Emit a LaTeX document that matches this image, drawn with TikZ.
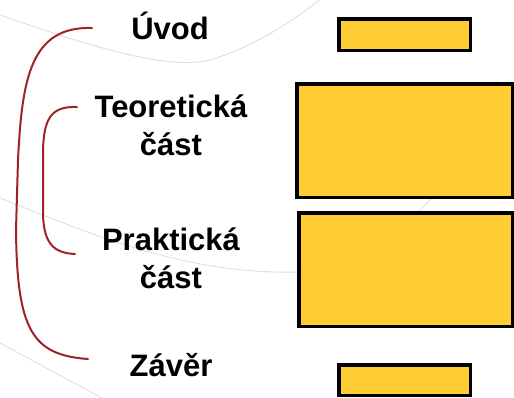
\documentclass[tikz,border=0pt]{standalone}
\usepackage{fontspec}
\setmainfont{Liberation Sans}
\definecolor{boxyellow}{RGB}{255,204,51}
\definecolor{bracketred}{RGB}{158,34,40}
\definecolor{bggrey}{RGB}{222,222,222}
\tikzset{
  bar/.style={draw=black, fill=boxyellow, line width=3.5pt},
  brace/.style={draw=bracketred, line width=2pt, line cap=round},
  bgline/.style={draw=bggrey, line width=0.9pt},
  lbl/.style={font=\fontsize{31}{38}\selectfont\bfseries, align=center, inner sep=0pt, anchor=base}
}
\begin{document}
\begin{tikzpicture}[x=1pt,y=-1pt]
\useasboundingbox (0,0) rectangle (514,397);
% background curves
\draw[bgline] (0,15) .. controls (100,50) and (170,70) .. (210,60) .. controls (260,45) and (300,15) .. (322,-2);
\draw[bgline] (0,198) .. controls (100,238) and (190,275) .. (300,272);
\draw[bgline] (0,343) -- (102,398);
\draw[bgline] (445,185) -- (405,225);
% bars
\node[bar, minimum width=131.5pt, minimum height=31.5pt, inner sep=0pt] (b1) at (404.5,34.5) {};
\node[bar, minimum width=215.5pt, minimum height=113.5pt, inner sep=0pt] (b2) at (404.5,140.5) {};
\node[bar, minimum width=213.5pt, minimum height=113.5pt, inner sep=0pt] (b3) at (405.5,269.5) {};
\node[bar, minimum width=131.5pt, minimum height=30.5pt, inner sep=0pt] (b4) at (404.5,380) {};
% labels
\node[lbl] (uvod) at (170,39.3) {Úvod};
\node[lbl] (teo) at (171,155) {Teoretická\\část};
\node[lbl] (prak) at (171,288.3) {Praktická\\část};
\node[lbl] (zaver) at (171,376) {Závěr};
% brackets
\coordinate (o1) at (92,28);
\coordinate (o2) at (88,359);
\coordinate (i1) at (77,107);
\coordinate (i2) at (75,254);
\draw[brace] (o1) .. controls (30,26) and (22,80) .. (18,160) -- (16,230) .. controls (17,330) and (32,355) .. (o2);
\draw[brace] (i1) .. controls (50,106) and (44,120) .. (43,150) -- (43,215) .. controls (44,245) and (55,253) .. (i2);
\end{tikzpicture}
\end{document}
